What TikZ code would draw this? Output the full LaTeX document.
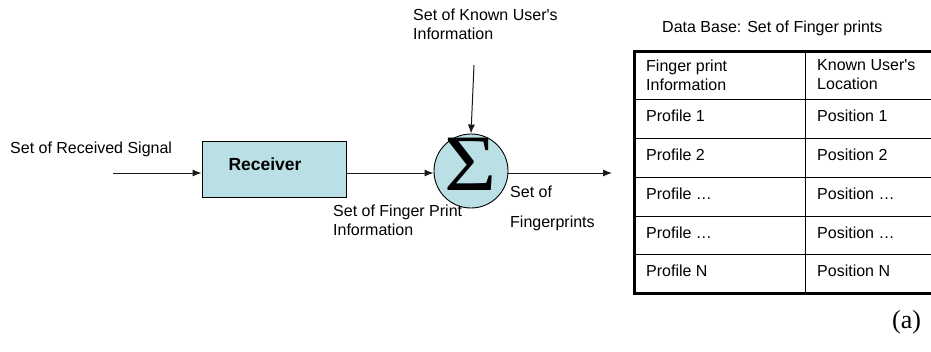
\documentclass[tikz,border=0pt]{standalone}
\usepackage{fontspec}
\setmainfont{Liberation Sans}
\newfontfamily\serifface{Liberation Serif}
\usetikzlibrary{arrows.meta}
\definecolor{boxfill}{RGB}{186,223,228}
\definecolor{linegray}{RGB}{25,25,25}
\begin{document}
\begin{tikzpicture}[x=1pt,y=-1pt,
  lbl/.style={font=\fontsize{16}{19}\selectfont, inner sep=0pt, anchor=west, align=left},
  flow/.style={draw=linegray, line width=1pt, -{Latex[length=9pt,width=7pt]}},
  block/.style={draw=black, line width=0.9pt, fill=boxfill, minimum width=144pt,
                minimum height=56pt, inner sep=0pt},
  junction/.style={circle, draw=black, line width=0.9pt, fill=boxfill,
                   minimum size=74pt, inner sep=0pt},
  thin rule/.style={draw=black, line width=0.8pt},
  thick rule/.style={draw=black, line width=3pt, line join=miter}]
\useasboundingbox (0,0) rectangle (931,351);
\clip (0,0) rectangle (931,351);

% receiver block and summing junction
\node[block] (rx) at (274,169) {};
\node[font=\fontsize{17.5}{20}\selectfont\bfseries, inner sep=0pt] (rxtext) at (265,164) {Receiver};
\node[junction] (sum) at (471,171) {};
\node[font=\serifface\fontsize{80}{80}\selectfont, inner sep=0pt, xscale=1.12] (sigma) at (471,164) {Σ};

% free ends of the signal lines
\coordinate (inp) at (113,173);
\coordinate (known) at (474,65);
\coordinate (outp) at (612,173);

\draw[flow] (inp) -- (rx.west |- inp);
\draw[flow] (rx.east |- inp) -- (sum.west |- inp);
\draw[flow] (known) -- (sum.north);
\draw[flow] (sum.east |- outp) -- (outp);

% signal labels
\node[lbl] (lrecv) at (10,149) {Set of Received Signal};
\node[lbl] (lknown) at (413,24) {Set of Known User\textquotesingle s\\Information};
\node[lbl] (lfp) at (333,220) {Set of Finger Print\\Information};
\node[lbl] (lset) at (510,192) {Set of};
\node[lbl] (lfps) at (510,223) {Fingerprints};

% fingerprint database table
\node[lbl] (dbtitle) at (662,28) {Data Base: Set of Finger prints};
\draw[thin rule] (805,51) -- (805,293);
\foreach \r in {99,138,177,216,254} {
  \draw[thin rule] (634,\r) -- (940,\r);
}
\draw[thick rule] (945,51) -- (634,51) -- (634,293) -- (945,293);

\node[lbl] (h1) at (646,75) {Finger print\\Information};
\node[lbl] (h2) at (817,75) {Known User\textquotesingle s\\Location};
\node[lbl] (p1) at (646,116) {Profile 1};
\node[lbl] (q1) at (817,116) {Position 1};
\node[lbl] (p2) at (646,155) {Profile 2};
\node[lbl] (q2) at (817,155) {Position 2};
\node[lbl] (p3) at (646,194) {Profile …};
\node[lbl] (q3) at (817,194) {Position …};
\node[lbl] (p4) at (646,233) {Profile …};
\node[lbl] (q4) at (817,233) {Position …};
\node[lbl] (p5) at (646,271) {Profile N};
\node[lbl] (q5) at (817,271) {Position N};

\node[font=\serifface\fontsize{26}{30}\selectfont, inner sep=0pt, anchor=west] (tag) at (892,322) {(a)};
\end{tikzpicture}
\end{document}
